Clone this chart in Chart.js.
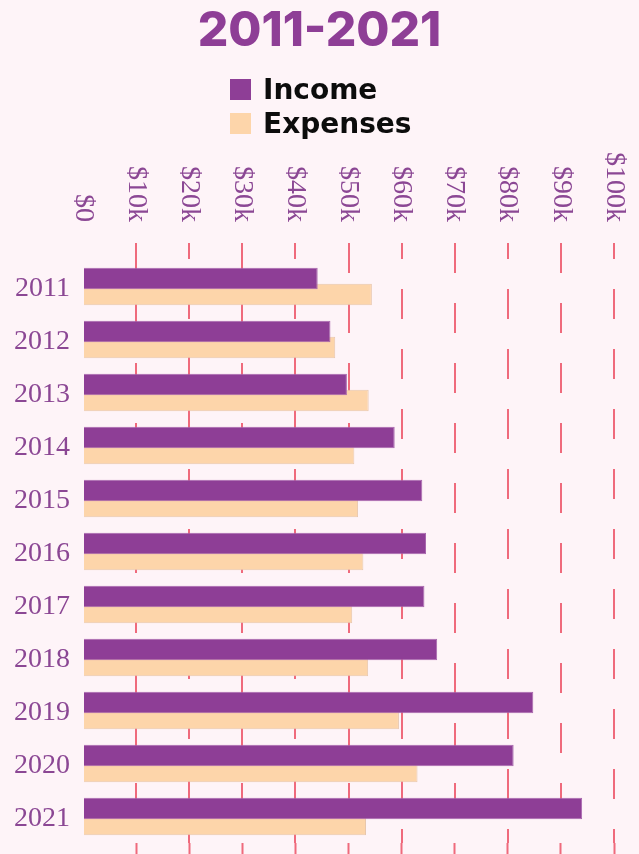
<!DOCTYPE html>
<html>
<head>
<meta charset="utf-8">
<title>Income vs Expenses 2011-2021</title>
<script src="https://cdn.jsdelivr.net/npm/chart.js@4"></script>
<style>
  html, body { margin: 0; padding: 0; background: #fef4f8; }
  #wrap { position: relative; width: 639px; height: 854px; overflow: hidden; }
  #chart { position: absolute; left: 0; top: 0; }
  #title { position: absolute; left: 0; top: 1px; width: 639px; text-align: center;
           font: 800 48px Inter, sans-serif; line-height: 56px; color: #8e3e96; }
  #legend { position: absolute; left: 230px; top: 79px; }
  .legend-row { display: flex; align-items: center; height: 21px; margin-bottom: 13px; }
  .legend-box { width: 21px; height: 21px; margin-right: 12px; }
  .legend-text { font: bold 28px "DejaVu Sans", sans-serif; line-height: 21px; color: #0c0c0c; }
</style>
</head>
<body>
<div id="wrap">
  <canvas id="chart" width="639" height="854"></canvas>
  <div id="title">2011-2021</div>
  <div id="legend"></div>
</div>
<script>
  // Data.
  const years = ['2011', '2012', '2013', '2014', '2015', '2016', '2017', '2018', '2019', '2020', '2021'];
  const income = [44200, 46600, 49700, 58700, 63900, 64600, 64300, 66700, 84800, 81100, 94000];
  const expenses = [54400, 47500, 53800, 51100, 51800, 52800, 50700, 53700, 59500, 63000, 53300];
  const xTickLabels = ['$0', '$10k', '$20k', '$30k', '$40k', '$50k', '$60k', '$70k', '$80k', '$90k', '$100k'];

  const PURPLE = '#8e3e96';
  const PEACH = '#fdd5aa';
  const GRID = '#ef6a7c';
  const LABEL = '#8b4794';

  // Dashed grid lines alternate phase: odd ticks start "on", even ticks are shifted.
  function lineColor(ctx) { return ctx.index === 0 ? 'rgba(0,0,0,0)' : GRID; }
  function gridOffset(ctx) { return ctx.index % 2 === 1 ? 17 : 31; }
  function tickOffset(ctx) { return ctx.index % 2 === 1 ? 0 : 14; }

  // Rotated (top-to-bottom) tick labels above the chart.
  const topLabels = {
    id: 'topLabels',
    afterDraw(chart) {
      const scale = chart.scales.x;
      const ctx = chart.ctx;
      const endY = scale.bottom - 17 - 21;
      ctx.save();
      ctx.font = '28px "Liberation Serif", serif';
      ctx.fillStyle = LABEL;
      ctx.textAlign = 'right';
      ctx.textBaseline = 'middle';
      scale.ticks.forEach(function (tick, i) {
        ctx.save();
        ctx.translate(scale.getPixelForTick(i), endY);
        ctx.rotate(Math.PI / 2);
        ctx.fillText(tick.label, 0, 0);
        ctx.restore();
      });
      ctx.restore();
    }
  };

  const chart = new Chart(document.getElementById('chart'), {
    type: 'bar',
    data: {
      labels: years,
      datasets: [{
        label: 'Income',
        data: income,
        backgroundColor: PURPLE,
        borderColor: '#a867ad',
        borderWidth: 1,
        categoryPercentage: 0.61,
        barPercentage: 1.33
      }, {
        label: 'Expenses',
        data: expenses,
        backgroundColor: PEACH,
        borderColor: '#e8c7ad',
        borderWidth: 1,
        categoryPercentage: 0.61,
        barPercentage: 1.33
      }]
    },
    options: {
      indexAxis: 'y',
      responsive: false,
      animation: false,
      devicePixelRatio: 1,
      layout: { padding: { top: 243, right: 25 } },
      plugins: {
        legend: { display: false },
        tooltip: { enabled: false },
        title: { display: false }
      },
      scales: {
        x: {
          type: 'linear',
          position: 'top',
          min: 0,
          max: 100000,
          ticks: {
            stepSize: 10000,
            display: false,
            callback: function (v, i) { return xTickLabels[i]; }
          },
          grid: {
            color: lineColor,
            lineWidth: 2,
            tickLength: 17,
            tickWidth: 2,
            tickColor: lineColor,
            tickBorderDash: [30, 30],
            tickBorderDashOffset: tickOffset
          },
          border: { display: false, dash: [30, 30], dashOffset: gridOffset }
        },
        x2: {
          type: 'linear',
          position: 'bottom',
          min: 0,
          max: 100000,
          ticks: { stepSize: 10000, display: false },
          grid: {
            drawOnChartArea: false,
            tickLength: 11,
            tickWidth: 2,
            tickColor: lineColor
          },
          border: { display: false }
        },
        y: {
          type: 'category',
          grid: { display: false, drawTicks: false },
          border: { display: false },
          afterFit: function (scale) {
            scale.width = 83;
            scale.paddingTop = 0;
            scale.paddingBottom = 0;
          },
          ticks: {
            color: LABEL,
            padding: 13,
            labelOffset: 2,
            font: { family: 'Liberation Serif', size: 28 }
          }
        }
      }
    },
    plugins: [topLabels]
  });

  // Legend stacked in two rows, built from the datasets.
  const legend = document.getElementById('legend');
  chart.data.datasets.forEach(function (ds) {
    const row = document.createElement('div');
    row.className = 'legend-row';
    const box = document.createElement('span');
    box.className = 'legend-box';
    box.style.background = ds.backgroundColor;
    const text = document.createElement('span');
    text.className = 'legend-text';
    text.textContent = ds.label;
    row.appendChild(box);
    row.appendChild(text);
    legend.appendChild(row);
  });
</script>
</body>
</html>
